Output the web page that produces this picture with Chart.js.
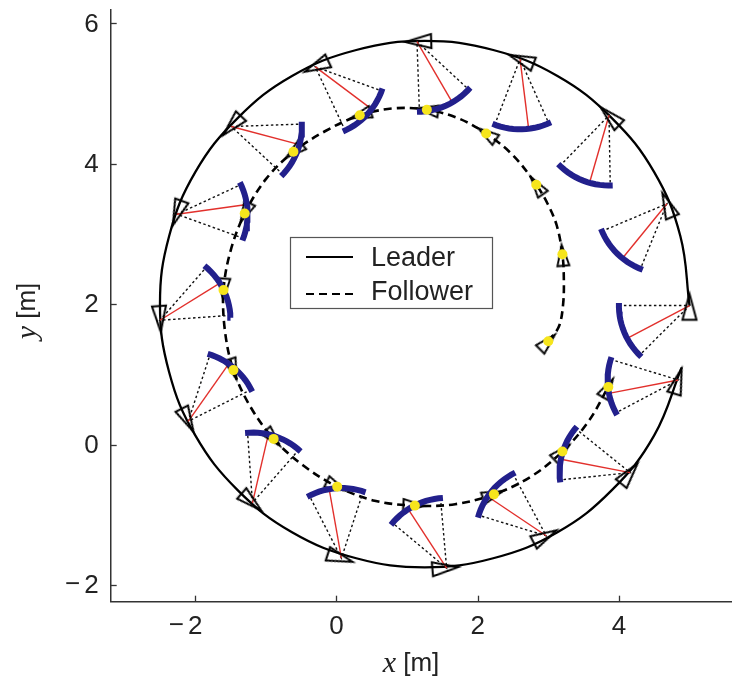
<!DOCTYPE html>
<html><head><meta charset="utf-8">
<script src="https://cdn.jsdelivr.net/npm/chart.js@4.4.1/dist/chart.umd.min.js"></script>
<style>html,body{margin:0;padding:0;background:#fff;}canvas{display:block;}</style>
</head><body>
<canvas id="c" width="732" height="682"></canvas>
<script>
// ---- tick values ----
const xTicks = [-2, 0, 2, 4];
const yTicks = [-2, 0, 2, 4, 6];

// ---- leader trajectory (solid) ----
const leaderPathX = [5.00, 4.87, 4.50, 3.90, 3.13, 2.22, 1.25, 0.28, -0.63, -1.40, -2.00, -2.37, -2.50, -2.37, -2.00, -1.40, -0.63, 0.28, 1.25, 2.22, 3.13, 3.90, 4.50, 4.89];
const leaderPathY = [1.98, 2.97, 3.88, 4.65, 5.25, 5.62, 5.75, 5.62, 5.25, 4.65, 3.88, 2.97, 2.00, 1.03, 0.13, -0.65, -1.25, -1.62, -1.75, -1.62, -1.25, -0.65, 0.13, 1.10];

// ---- follower trajectory (dashed) ----
const followerPathX = [3.00, 3.15, 3.21, 3.22, 3.20, 3.12, 2.99, 2.83, 2.50, 2.12, 1.72, 1.28, 0.82, 0.33, -0.15, -0.61, -1.00, -1.30, -1.50, -1.60, -1.58, -1.46, -1.22, -0.89, -0.47, 0.01, 0.54, 1.11, 1.68, 2.23, 2.75, 3.20, 3.57, 3.85];
const followerPathY = [1.47, 1.68, 2.00, 2.37, 2.71, 3.12, 3.43, 3.70, 4.12, 4.43, 4.65, 4.77, 4.79, 4.69, 4.47, 4.17, 3.78, 3.29, 2.76, 2.20, 1.62, 1.06, 0.54, 0.08, -0.30, -0.60, -0.80, -0.87, -0.85, -0.71, -0.46, -0.10, 0.33, 0.82];

// ---- snapshots: leader pose ----
const leaderX = [5.00, 4.68, 3.86, 2.60, 1.14, -0.30, -1.49, -2.26, -2.50, -2.10, -1.19, 0.07, 1.56, 2.97, 4.16, 4.84];
const leaderY = [1.98, 3.43, 4.69, 5.49, 5.74, 5.38, 4.53, 3.28, 1.77, 0.33, -0.83, -1.62, -1.76, -1.30, -0.40, 0.92];
const leaderHeading = [90, 113, 136, 159, 182, 205, 227, 250, 274, 297, 319, 342, 5, 28, 51, 73];

// ---- snapshots: follower pose ----
const followerX = [3.00, 3.20, 2.83, 2.12, 1.28, 0.33, -0.61, -1.30, -1.60, -1.46, -0.89, 0.01, 1.11, 2.23, 3.20, 3.85];
const followerY = [1.47, 2.71, 3.70, 4.43, 4.77, 4.69, 4.17, 3.29, 2.20, 1.06, 0.08, -0.60, -0.87, -0.71, -0.10, 0.82];
const followerHeading = [45, 95, 125, 146, 171, 198, 219, 244, 266, 288, 312, 334, 357, 20, 44, 60];

// ---- sensing cone (angles relative to leader heading, degrees; range in m) ----
const coneEdges = [90, 135];
const arcSpan = [88, 137];
const desiredAngle = 118;
const coneRange = 1.0;

function polar(x, y, angDeg, r) {
  const a = angDeg * Math.PI / 180;
  return { x: x + r * Math.cos(a), y: y + r * Math.sin(a) };
}
function zip(xs, ys) { return xs.map((v, i) => ({ x: v, y: ys[i] })); }

function makeTri(len, base, lw) {
  const s = 48, c = document.createElement('canvas');
  c.width = s; c.height = s;
  const g = c.getContext('2d');
  const tip = s / 2 - len * 0.45, back = s / 2 + len * 0.55;
  g.beginPath();
  g.moveTo(s / 2, tip);
  g.lineTo(s / 2 + base / 2, back);
  g.lineTo(s / 2 - base / 2, back);
  g.closePath();
  g.lineWidth = lw; g.strokeStyle = '#000'; g.lineJoin = 'miter';
  g.stroke();
  return c;
}
const leaderTri = makeTri(26, 14, 2.0);
const followerTri = makeTri(21, 12, 1.9);

const datasets = [];
datasets.push({ data: zip(leaderPathX, leaderPathY), showLine: true, tension: 0.4, borderColor: '#000', borderWidth: 2.3, pointRadius: 0, order: 9 });
datasets.push({ data: zip(followerPathX, followerPathY), showLine: true, tension: 0.35, borderColor: '#000', borderWidth: 2.6, borderDash: [8, 5], pointRadius: 0, order: 8 });

leaderX.forEach((lx, i) => {
  const ly = leaderY[i], h = leaderHeading[i];
  const e1 = polar(lx, ly, h + coneEdges[0], coneRange);
  const e2 = polar(lx, ly, h + coneEdges[1], coneRange);
  datasets.push({ data: [e1, { x: lx, y: ly }, e2], showLine: true, tension: 0, borderColor: '#111', borderWidth: 1.4, borderDash: [2.5, 2.5], pointRadius: 0, order: 6 });
  datasets.push({ data: [{ x: lx, y: ly }, polar(lx, ly, h + desiredAngle, coneRange)], showLine: true, tension: 0, borderColor: '#e2302c', borderWidth: 1.4, pointRadius: 0, order: 5 });
  const arc = [];
  const n = 14;
  for (let k = 0; k <= n; k++) arc.push(polar(lx, ly, h + arcSpan[0] + (arcSpan[1] - arcSpan[0]) * k / n, coneRange));
  datasets.push({ data: arc, showLine: true, tension: 0, borderColor: '#22208c', borderWidth: 6, borderCapStyle: 'butt', pointRadius: 0, order: 2 });
});

datasets.push({ data: zip(leaderX, leaderY), showLine: false, pointStyle: leaderTri, pointRadius: 8, pointRotation: leaderHeading.map(h => 90 - h), order: 4 });
datasets.push({ data: zip(followerX, followerY), showLine: false, pointStyle: followerTri, pointRadius: 8, pointRotation: followerHeading.map(h => 90 - h), order: 3 });
datasets.push({ data: zip(followerX, followerY), showLine: false, pointStyle: 'circle', pointRadius: 5, pointBackgroundColor: '#f6e51c', pointBorderWidth: 0, order: 0 });

const FONT_SANS = '"Liberation Sans", Arial, Helvetica, sans-serif';
const FONT_SERIF_IT = 'italic 30px "Liberation Serif", "DejaVu Serif", serif';

const deco = {
  id: 'deco',
  afterDraw(chart) {
    const { ctx, scales: { x, y }, chartArea: a } = chart;
    ctx.save();
    // inward ticks
    ctx.strokeStyle = '#333'; ctx.lineWidth = 1.3;
    x.ticks.forEach(t => {
      const px = Math.round(x.getPixelForValue(t.value)) + 0.5;
      ctx.beginPath(); ctx.moveTo(px, a.bottom); ctx.lineTo(px, a.bottom - 6); ctx.stroke();
    });
    y.ticks.forEach(t => {
      const py = Math.round(y.getPixelForValue(t.value)) + 0.5;
      ctx.beginPath(); ctx.moveTo(a.left, py); ctx.lineTo(a.left + 6, py); ctx.stroke();
    });
    // tick labels
    ctx.fillStyle = '#222';
    ctx.font = '26px ' + FONT_SANS;
    ctx.textBaseline = 'middle';
    x.ticks.forEach(t => {
      const v = t.value, px = x.getPixelForValue(v), s = String(Math.abs(v));
      const w = ctx.measureText(s).width;
      ctx.textAlign = 'center';
      ctx.fillText(s, px, a.bottom + 25);
      if (v < 0) { ctx.textAlign = 'right'; ctx.fillText('\u2212', px - w / 2 - 4, a.bottom + 24); }
    });
    y.ticks.forEach(t => {
      const v = t.value, py = y.getPixelForValue(v), s = String(Math.abs(v));
      const w = ctx.measureText(s).width;
      ctx.textAlign = 'right';
      ctx.fillText(s, a.left - 12, py + 1);
      if (v < 0) ctx.fillText('\u2212', a.left - 12 - w - 4, py);
    });
    // axis titles (mixed fonts)
    function title(cx, cy, rot, sym) {
      ctx.save();
      ctx.translate(cx, cy); ctx.rotate(rot);
      ctx.textBaseline = 'middle'; ctx.textAlign = 'left';
      ctx.font = FONT_SERIF_IT; const w1 = ctx.measureText(sym).width;
      ctx.font = '26px ' + FONT_SANS; const w2 = ctx.measureText(' [m]').width;
      const x0 = -(w1 + w2) / 2;
      ctx.font = FONT_SERIF_IT; ctx.fillText(sym, x0, 0);
      ctx.font = '26px ' + FONT_SANS; ctx.fillText(' [m]', x0 + w1, 0);
      ctx.restore();
    }
    title(411, 664, 0, 'x');
    title(28, 311, -Math.PI / 2, 'y');
    // legend
    const L = { l: 290.5, t: 237.5, r: 492.5, b: 308.5 };
    ctx.fillStyle = '#fff'; ctx.fillRect(L.l, L.t, L.r - L.l, L.b - L.t);
    ctx.strokeStyle = '#555'; ctx.lineWidth = 1.2; ctx.setLineDash([]);
    ctx.strokeRect(L.l, L.t, L.r - L.l, L.b - L.t);
    ctx.strokeStyle = '#000'; ctx.lineWidth = 2.2;
    ctx.beginPath(); ctx.moveTo(306, 257); ctx.lineTo(353, 257); ctx.stroke();
    ctx.setLineDash([8, 5]);
    ctx.beginPath(); ctx.moveTo(306, 294); ctx.lineTo(353, 294); ctx.stroke();
    ctx.setLineDash([]);
    ctx.fillStyle = '#222'; ctx.font = '27px ' + FONT_SANS; ctx.textAlign = 'left'; ctx.textBaseline = 'middle';
    ctx.fillText('Leader', 371, 259);
    ctx.fillText('Follower', 371, 293);
    ctx.restore();
  }
};

new Chart(document.getElementById('c'), {
  type: 'scatter',
  data: { datasets },
  options: {
    responsive: false, animation: false, events: [],
    layout: { autoPadding: false, padding: { top: 10, right: 0, left: 0, bottom: 0 } },
    plugins: { legend: { display: false }, tooltip: { enabled: false } },
    scales: {
      x: {
        type: 'linear', min: -3.198, max: 5.602,
        grid: { display: false }, ticks: { display: false },
        border: { display: true, color: '#333', width: 1.5 },
        afterBuildTicks: s => { s.ticks = xTicks.map(v => ({ value: v })); },
        afterFit: s => { s.height = 80.3; }
      },
      y: {
        type: 'linear', min: -2.239, max: 6.19,
        grid: { display: false }, ticks: { display: false },
        border: { display: true, color: '#333', width: 1.5 },
        afterBuildTicks: s => { s.ticks = yTicks.map(v => ({ value: v })); },
        afterFit: s => { s.width = 110.7; }
      }
    }
  },
  plugins: [deco]
});
</script>
</body></html>
